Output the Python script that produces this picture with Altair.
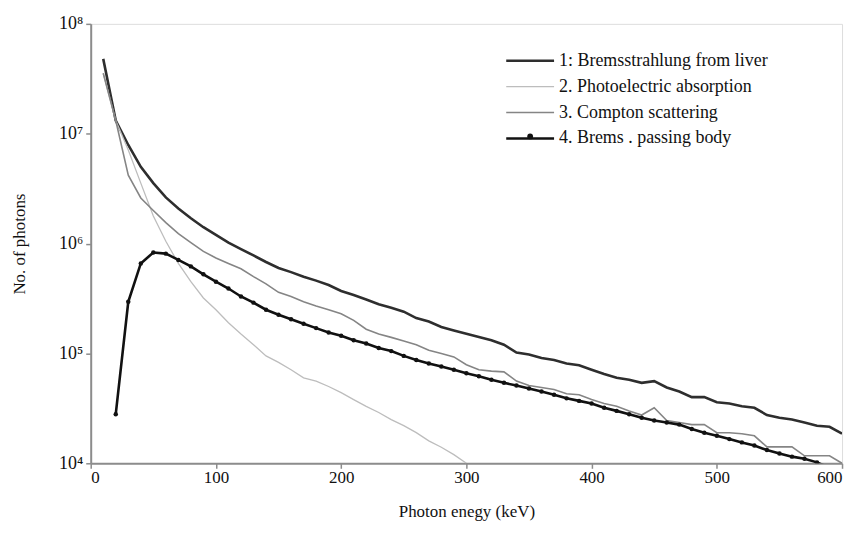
import altair as alt
import pandas as pd

S1 = "1: Bremsstrahlung from liver"
S2 = "2. Photoelectric absorption"
S3 = "3. Compton scattering"
S4 = "4. Brems . passing body"

energy_1 = list(range(10, 601, 10))
brems_liver = [4.8e7, 1.32e7, 7.9e6, 5.0e6, 3.55e6, 2.63e6, 2.09e6, 1.70e6, 1.41e6, 1.20e6,
               1.02e6, 8.9e5, 7.8e5, 6.8e5, 6.0e5, 5.5e5, 5.0e5, 4.6e5, 4.2e5, 3.7e5,
               3.4e5, 3.1e5, 2.8e5, 2.6e5, 2.4e5, 2.1e5, 1.95e5, 1.74e5, 1.62e5, 1.51e5,
               1.41e5, 1.32e5, 1.20e5, 1.02e5, 9.8e4, 9.1e4, 8.7e4, 8.1e4, 7.8e4, 7.1e4,
               6.5e4, 6.0e4, 5.75e4, 5.4e4, 5.6e4, 4.9e4, 4.5e4, 4.0e4, 4.0e4, 3.6e4,
               3.5e4, 3.3e4, 3.2e4, 2.75e4, 2.6e4, 2.5e4, 2.35e4, 2.2e4, 2.15e4, 1.86e4]

energy_2 = list(range(10, 301, 10))
photoelectric = [3.55e7, 1.32e7, 7.1e6, 3.55e6, 1.78e6, 1.05e6, 6.6e5, 4.5e5, 3.2e5, 2.5e5,
                 1.9e5, 1.5e5, 1.2e5, 9.5e4, 8.3e4, 7.1e4, 6.0e4, 5.6e4, 5.0e4, 4.4e4,
                 3.8e4, 3.3e4, 2.9e4, 2.5e4, 2.2e4, 1.9e4, 1.6e4, 1.4e4, 1.2e4, 1.0e4]

energy_3 = list(range(10, 601, 10))
compton = [3.55e7, 1.32e7, 4.2e6, 2.6e6, 2.0e6, 1.55e6, 1.23e6, 1.02e6, 8.5e5, 7.4e5,
           6.6e5, 5.9e5, 5.0e5, 4.3e5, 3.6e5, 3.3e5, 2.95e5, 2.7e5, 2.5e5, 2.3e5,
           2.0e5, 1.66e5, 1.5e5, 1.4e5, 1.3e5, 1.2e5, 1.07e5, 1.0e5, 9.3e4, 7.9e4,
           7.1e4, 6.9e4, 6.8e4, 5.6e4, 5.1e4, 4.9e4, 4.7e4, 4.3e4, 4.2e4, 3.8e4,
           3.5e4, 3.3e4, 3.0e4, 2.75e4, 3.2e4, 2.45e4, 2.35e4, 2.25e4, 2.25e4, 1.9e4,
           1.9e4, 1.86e4, 1.78e4, 1.41e4, 1.41e4, 1.41e4, 1.17e4, 1.17e4, 1.17e4, 1.0e4]

energy_4 = list(range(20, 591, 10))
brems_body = [2.8e4, 2.95e5, 6.6e5, 8.3e5, 8.1e5, 7.1e5, 6.2e5, 5.25e5, 4.5e5, 3.9e5,
              3.3e5, 2.9e5, 2.5e5, 2.25e5, 2.05e5, 1.86e5, 1.7e5, 1.55e5, 1.45e5, 1.32e5,
              1.23e5, 1.12e5, 1.05e5, 9.5e4, 8.7e4, 8.1e4, 7.6e4, 7.1e4, 6.6e4, 6.2e4,
              5.75e4, 5.4e4, 5.1e4, 4.8e4, 4.5e4, 4.2e4, 3.9e4, 3.7e4, 3.5e4, 3.2e4,
              3.0e4, 2.8e4, 2.6e4, 2.45e4, 2.35e4, 2.25e4, 2.05e4, 1.9e4, 1.78e4, 1.66e4,
              1.55e4, 1.45e4, 1.32e4, 1.23e4, 1.15e4, 1.10e4, 1.02e4, 9.1e3]

series_names = [S1, S2, S3, S4]
series_colors = ["#2e2e2e", "#bdbdbd", "#858585", "#111111"]
series_widths = [2.6, 1.3, 1.6, 2.6]
draw_order = {S2: 0, S3: 1, S1: 2, S4: 3}

frames = []
for name, e, v in [(S1, energy_1, brems_liver), (S2, energy_2, photoelectric),
                   (S3, energy_3, compton), (S4, energy_4, brems_body)]:
    frames.append(pd.DataFrame({"E": e, "N": v, "series": name, "ord": draw_order[name]}))
df = pd.concat(frames, ignore_index=True)
df["mk"] = df["series"]

FONT = "Liberation Serif"
AX = "#8c8c8c"

x_enc = alt.X("E:Q", scale=alt.Scale(domain=[0, 600], nice=False),
              axis=alt.Axis(values=[0, 100, 200, 300, 400, 500, 600], title="Photon enegy (keV)",
                            grid=False, tickSize=5, tickColor=AX, tickWidth=1.5,
                            domainColor=AX, domainWidth=2, labelFont=FONT, labelFontSize=17,
                            labelColor="#111", labelPadding=1, titleFont=FONT, titleFontSize=17,
                            titleFontWeight="normal", titleColor="#111", titlePadding=18))
y_enc = alt.Y("N:Q", scale=alt.Scale(type="log", domain=[1e4, 1e8], nice=False),
              axis=alt.Axis(values=[1e4, 1e5, 1e6, 1e7, 1e8], title="No. of photons",
                            labelExpr="'10' + ['⁰','¹','²','³','⁴','⁵','⁶','⁷','⁸','⁹'][round(log(datum.value)/LN10)]",
                            grid=False, tickSize=5, tickColor=AX, tickWidth=1.5,
                            domainColor=AX, domainWidth=2, labelFont=FONT, labelFontSize=18,
                            labelColor="#111", labelPadding=3, titleFont=FONT, titleFontSize=17,
                            titleFontWeight="normal", titleColor="#111", titlePadding=30))

legend_main = alt.Legend(title=None, orient="none", legendX=432, legendY=28,
                         symbolType="M-4.8,0H4.8", symbolSize=100, labelLimit=0,
                         labelOffset=20, labelFont=FONT, labelFontSize=18,
                         labelColor="#111", rowPadding=8, padding=0)

lines = alt.Chart(df).mark_line(clip=True).encode(
    x=x_enc,
    y=y_enc,
    color=alt.Color("series:N", scale=alt.Scale(domain=series_names, range=series_colors),
                    legend=legend_main),
    strokeWidth=alt.StrokeWidth("series:N",
                                scale=alt.Scale(type="ordinal", domain=series_names, range=series_widths),
                                legend=legend_main),
    order="E:Q",
    detail="ord:O",
)

points = alt.Chart(df[df["series"] == S4]).mark_point(filled=True, size=20, opacity=1, clip=True).encode(
    x=alt.X("E:Q"),
    y=alt.Y("N:Q"),
    fill=alt.Fill("mk:N", scale=alt.Scale(domain=[S4], range=["#111111"]),
                  legend=alt.Legend(title=None, orient="none", legendX=432, legendY=104,
                                    symbolType="circle", symbolSize=34, labelOffset=27,
                                    labelFont=FONT, labelFontSize=18, labelExpr="''",
                                    padding=0, symbolStrokeWidth=0)),
)

chart = (alt.layer(lines, points)
         .properties(width=754, height=441,
                     autosize=alt.AutoSizeParams(type="none"),
                     padding={"left": 83, "top": 15, "right": 10, "bottom": 60})
         .configure_view(stroke="#9a9a9a", strokeWidth=1.5)
         .configure(background="white"))

chart.save("out.html", embed_options={"renderer": "svg", "actions": False})
